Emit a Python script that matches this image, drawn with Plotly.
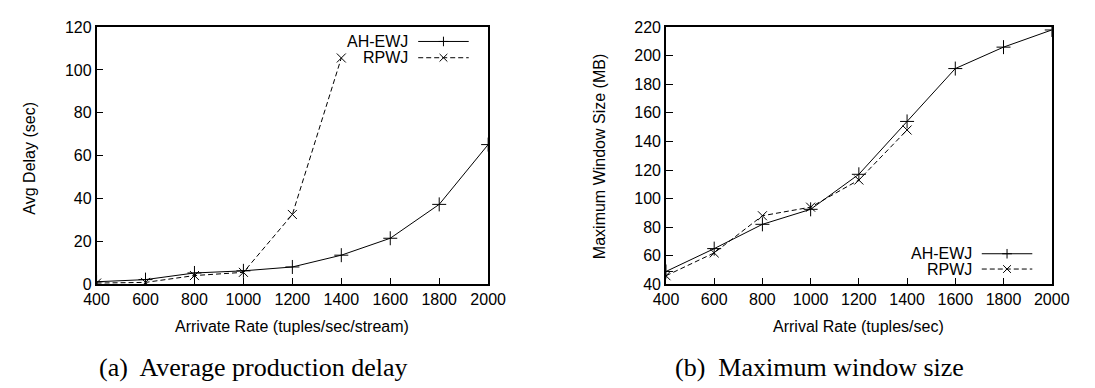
import plotly.graph_objects as go

W, H = 1095, 388

# ---- data ----
rates = [400, 600, 800, 1000, 1200, 1400, 1600, 1800, 2000]
rates_rpwj = [400, 600, 800, 1000, 1200, 1400]

delay_ahewj = [1.2, 2.2, 5.3, 6.3, 8.1, 13.6, 21.5, 37.3, 65.2]
delay_rpwj = [0.6, 0.9, 4.1, 5.6, 32.6, 105.6]

win_ahewj = [49, 65, 82, 92.5, 117, 154, 191, 206, 218]
win_rpwj = [46, 62, 88, 94, 113, 148]

x_ticks = [400, 600, 800, 1000, 1200, 1400, 1600, 1800, 2000]
y1_ticks = [0, 20, 40, 60, 80, 100, 120]
y2_ticks = [40, 60, 80, 100, 120, 140, 160, 180, 200, 220]

series_names = ["AH-EWJ", "RPWJ"]

# ---- layout geometry (pixels) ----
L1, R1 = 86, 489
L2, R2 = 672, 1069
TOP, BOT = 20, 289

def px(x):
    return x / W

def py(y):
    return 1 - y / H

SANS = "Liberation Sans, Arial, sans-serif"
SERIF = "Liberation Serif, Times New Roman, serif"
FS = 16

fig = go.Figure()

line_solid = dict(color="black", width=1)
line_dash = dict(color="black", width=1, dash="5px,3px")
mk_plus = dict(symbol="cross-thin", size=10, line=dict(color="black", width=1), color="black")
mk_x = dict(symbol="x-thin", size=9, line=dict(color="black", width=1), color="black")

fig.add_trace(go.Scatter(x=rates, y=delay_ahewj, mode="lines+markers", line=line_solid,
                         marker=mk_plus, name=series_names[0], xaxis="x", yaxis="y"))
fig.add_trace(go.Scatter(x=rates_rpwj, y=delay_rpwj, mode="lines+markers", line=line_dash,
                         marker=mk_x, name=series_names[1], xaxis="x", yaxis="y"))
fig.add_trace(go.Scatter(x=rates, y=win_ahewj, mode="lines+markers", line=line_solid,
                         marker=mk_plus, name=series_names[0], xaxis="x2", yaxis="y2"))
fig.add_trace(go.Scatter(x=rates_rpwj, y=win_rpwj, mode="lines+markers", line=line_dash,
                         marker=mk_x, name=series_names[1], xaxis="x2", yaxis="y2"))

axis_common = dict(showline=True, linecolor="black", linewidth=1.5, mirror=True,
                   ticks="inside", ticklen=7, tickwidth=1, tickcolor="black",
                   showgrid=False, zeroline=False,
                   tickfont=dict(family=SANS, size=FS, color="black"))

fig.update_layout(
    width=W, height=H,
    margin=dict(l=0, r=0, t=0, b=0),
    paper_bgcolor="white", plot_bgcolor="white",
    showlegend=False,
    xaxis=dict(domain=[px(L1), px(R1)], range=[400, 2000], tickvals=x_ticks,
               anchor="y", **axis_common),
    yaxis=dict(domain=[py(BOT), py(TOP)], range=[0, 120], tickvals=y1_ticks,
               anchor="x", **axis_common),
    xaxis2=dict(domain=[px(L2), px(R2)], range=[400, 2000], tickvals=x_ticks,
                anchor="y2", **axis_common),
    yaxis2=dict(domain=[py(BOT), py(TOP)], range=[40, 220], tickvals=y2_ticks,
                anchor="x2", **axis_common),
)

ann = []
# axis titles
ann.append(dict(text="Arrivate Rate (tuples/sec/stream)", x=px((L1 + R1) / 2), y=py(333),
                xref="paper", yref="paper", showarrow=False,
                font=dict(family=SANS, size=FS, color="black"), xanchor="center", yanchor="middle"))
ann.append(dict(text="Arrival Rate (tuples/sec)", x=px((L2 + R2) / 2), y=py(333),
                xref="paper", yref="paper", showarrow=False,
                font=dict(family=SANS, size=FS, color="black"), xanchor="center", yanchor="middle"))
ann.append(dict(text="Avg Delay (sec)", x=px(17), y=py(157), textangle=-90,
                xref="paper", yref="paper", showarrow=False,
                font=dict(family=SANS, size=FS, color="black"), xanchor="center", yanchor="middle"))
ann.append(dict(text="Maximum Window Size (MB)", x=px(603), y=py(155), textangle=-90,
                xref="paper", yref="paper", showarrow=False,
                font=dict(family=SANS, size=FS, color="black"), xanchor="center", yanchor="middle"))
# captions
ann.append(dict(text="(a)  Average production delay", x=px(247), y=py(376),
                xref="paper", yref="paper", showarrow=False,
                font=dict(family=SERIF, size=26, color="black"), xanchor="center", yanchor="middle"))
ann.append(dict(text="(b)  Maximum window size", x=px(830), y=py(376),
                xref="paper", yref="paper", showarrow=False,
                font=dict(family=SERIF, size=26, color="black"), xanchor="center", yanchor="middle"))

shapes = []

def legend(R, y_rows):
    for i, (name, yy) in enumerate(zip(series_names, y_rows)):
        ann.append(dict(text=name, x=px(R - 80), y=py(yy), xref="paper", yref="paper",
                        showarrow=False, xanchor="right", yanchor="middle",
                        font=dict(family=SANS, size=FS, color="black")))
        x0, x1 = R - 72, R - 20
        shapes.append(dict(type="line", xref="paper", yref="paper",
                           x0=px(x0), x1=px(x1), y0=py(yy), y1=py(yy),
                           line=dict(color="black", width=1,
                                     dash="solid" if i == 0 else "5px,3px")))
        cx = (x0 + x1) / 2
        if i == 0:
            shapes.append(dict(type="line", xref="paper", yref="paper",
                               x0=px(cx - 5), x1=px(cx + 5), y0=py(yy), y1=py(yy),
                               line=dict(color="black", width=1)))
            shapes.append(dict(type="line", xref="paper", yref="paper",
                               x0=px(cx), x1=px(cx), y0=py(yy - 5), y1=py(yy + 5),
                               line=dict(color="black", width=1)))
        else:
            shapes.append(dict(type="line", xref="paper", yref="paper",
                               x0=px(cx - 4), x1=px(cx + 4), y0=py(yy - 4), y1=py(yy + 4),
                               line=dict(color="black", width=1)))
            shapes.append(dict(type="line", xref="paper", yref="paper",
                               x0=px(cx - 4), x1=px(cx + 4), y0=py(yy + 4), y1=py(yy - 4),
                               line=dict(color="black", width=1)))

legend(R1, [35, 52])
legend(R2, [257, 273])

fig.update_layout(annotations=ann, shapes=shapes)
fig.write_html(
    "out.html",
    config={"displayModeBar": False},
    post_script="document.body.style.margin='0';document.body.style.overflow='hidden';",
)
